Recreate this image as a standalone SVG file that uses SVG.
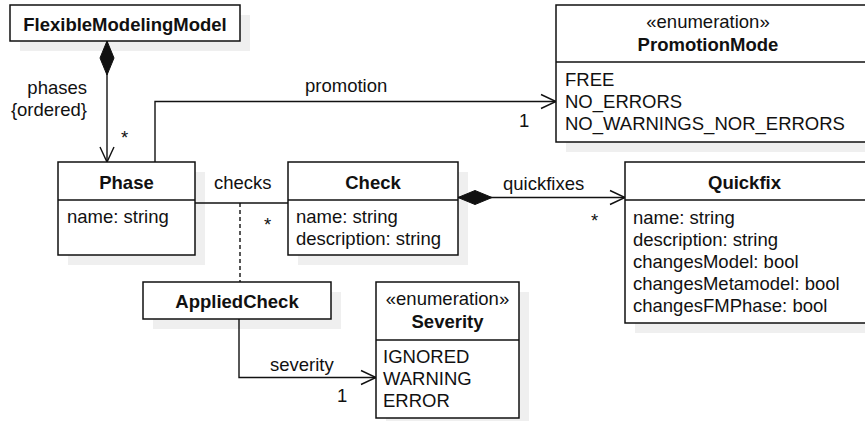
<svg xmlns="http://www.w3.org/2000/svg" width="865" height="421" viewBox="0 0 865 421">
  <style>
    text { font-family: "Liberation Sans", Arial, sans-serif; font-size: 18.5px; fill: #111; }
    .title { font-weight: bold; text-anchor: middle; }
    .stereo { text-anchor: middle; }
    .shadow { fill: #efefef; stroke: none; }
    .box { fill: #fff; stroke: #111; stroke-width: 1.5; }
    .sep { stroke: #111; stroke-width: 1.5; fill: none; }
    .edge { fill: none; stroke: #111; stroke-width: 1.4; }
    .dashed { stroke-dasharray: 4 3; }
  </style>
  <defs>
    <marker id="open-arrow" markerUnits="userSpaceOnUse" markerWidth="20" markerHeight="20" refX="0" refY="0" orient="auto" overflow="visible">
      <path d="M-15,-7 L0,0 L-15,7" fill="none" stroke="#111" stroke-width="1.4"/>
    </marker>
    <marker id="diamond" markerUnits="userSpaceOnUse" markerWidth="40" markerHeight="20" refX="0" refY="0" orient="auto" overflow="visible">
      <path d="M0,0 L17,-7 L34,0 L17,7 Z" fill="#111" stroke="#111" stroke-width="1"/>
    </marker>
  </defs>

  <!-- drop shadows -->
  <g id="shadows">
    <rect class="shadow" x="20" y="15" width="230" height="36"/>
    <rect class="shadow" x="566" y="15" width="312" height="137"/>
    <rect class="shadow" x="68" y="172" width="137" height="93"/>
    <rect class="shadow" x="298" y="172" width="170" height="93"/>
    <rect class="shadow" x="635" y="172" width="243" height="161"/>
    <rect class="shadow" x="153" y="292" width="188" height="37"/>
    <rect class="shadow" x="386" y="292" width="143" height="136"/>
  </g>

  <!-- connectors -->
  <g id="connectors">
    <path class="edge" d="M107,41 L107,162" marker-start="url(#diamond)" marker-end="url(#open-arrow)"/>
    <path class="edge" d="M155,162 L155,101.5 L556,101.5" marker-end="url(#open-arrow)"/>
    <path class="edge" d="M195,203 L288,203"/>
    <path class="edge dashed" d="M240,203 L240,282"/>
    <path class="edge" d="M458,197.5 L625,197.5" marker-start="url(#diamond)" marker-end="url(#open-arrow)"/>
    <path class="edge" d="M239,319 L239,377.5 L376,377.5" marker-end="url(#open-arrow)"/>

    <text x="87" y="94" text-anchor="end">phases</text>
    <text x="87" y="116" text-anchor="end">{ordered}</text>
    <text x="121" y="144">*</text>
    <text x="305" y="92">promotion</text>
    <text x="519" y="127">1</text>
    <text x="214" y="189">checks</text>
    <text x="264" y="231">*</text>
    <text x="503" y="190">quickfixes</text>
    <text x="591" y="227">*</text>
    <text x="270" y="371">severity</text>
    <text x="337" y="402">1</text>
  </g>

  <g id="FlexibleModelingModel">
    <rect class="box" x="10" y="5" width="230" height="36"/>
    <text class="title" x="125" y="31">FlexibleModelingModel</text>
  </g>

  <g id="PromotionMode">
    <rect class="box" x="556" y="5" width="312" height="137"/>
    <line class="sep" x1="556" y1="62" x2="868" y2="62"/>
    <text class="stereo" x="708" y="28">«enumeration»</text>
    <text class="title" x="708" y="51">PromotionMode</text>
    <text x="565" y="86">FREE</text>
    <text x="565" y="108">NO_ERRORS</text>
    <text x="565" y="130">NO_WARNINGS_NOR_ERRORS</text>
  </g>

  <g id="Phase">
    <rect class="box" x="58" y="162" width="137" height="93"/>
    <line class="sep" x1="58" y1="200" x2="195" y2="200"/>
    <text class="title" x="126.5" y="189">Phase</text>
    <text x="67" y="223">name: string</text>
  </g>

  <g id="Check">
    <rect class="box" x="288" y="162" width="170" height="93"/>
    <line class="sep" x1="288" y1="200" x2="458" y2="200"/>
    <text class="title" x="373" y="189">Check</text>
    <text x="296" y="223">name: string</text>
    <text x="296" y="245">description: string</text>
  </g>

  <g id="Quickfix">
    <rect class="box" x="625" y="162" width="243" height="161"/>
    <line class="sep" x1="625" y1="200" x2="868" y2="200"/>
    <text class="title" x="744.5" y="189">Quickfix</text>
    <text x="633" y="224">name: string</text>
    <text x="633" y="246">description: string</text>
    <text x="633" y="268">changesModel: bool</text>
    <text x="633" y="290">changesMetamodel: bool</text>
    <text x="633" y="312">changesFMPhase: bool</text>
  </g>

  <g id="AppliedCheck">
    <rect class="box" x="143" y="282" width="188" height="37"/>
    <text class="title" x="237" y="308">AppliedCheck</text>
  </g>

  <g id="Severity">
    <rect class="box" x="376" y="282" width="143" height="136"/>
    <line class="sep" x1="376" y1="340" x2="519" y2="340"/>
    <text class="stereo" x="447.5" y="305">«enumeration»</text>
    <text class="title" x="447.5" y="328">Severity</text>
    <text x="383" y="363">IGNORED</text>
    <text x="383" y="385">WARNING</text>
    <text x="383" y="407">ERROR</text>
  </g>
</svg>
